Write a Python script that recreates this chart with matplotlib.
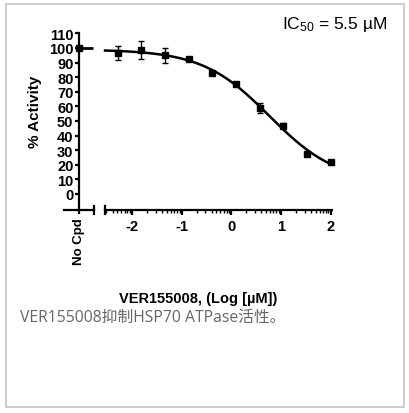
import matplotlib
matplotlib.use("Agg")
import matplotlib.pyplot as plt
import numpy as np
from matplotlib.patches import Rectangle

plt.rcParams['font.family'] = ['Liberation Sans', 'DejaVu Sans']
plt.rcParams['mathtext.default'] = 'regular'

# data
log_conc = [-2.29, -1.82, -1.34, -0.86, -0.39, 0.09, 0.57, 1.05, 1.52, 2.0]
activity = [96.6, 98.5, 95.0, 92.5, 83.0, 75.5, 58.8, 46.8, 27.4, 21.7]
activity_err = [4.5, 6.0, 5.0, 0.8, 1.0, 1.0, 3.4, 1.5, 1.0, 0.5]
no_cpd_value = 100.0
y_ticks = list(range(0, 111, 10))
x_ticks = [-2, -1, 0, 1, 2]
ic50_text = "IC$_{50}$ = 5.5 µM"
x_label = "VER155008, (Log [µM])"
y_label = "% Activity"
caption = "VER155008抑制HSP70 ATPase活性。"


def fit_4pl(x, y):
    # grid over centre and slope, top/bottom solved linearly
    x = np.asarray(x)
    y = np.asarray(y)
    best = None
    for c in np.linspace(-0.5, 2.0, 251):
        for h in np.linspace(0.3, 2.5, 221):
            s = 1.0 / (1.0 + 10 ** ((x - c) * h))
            A = np.column_stack([1 - s, s])
            coef, *_ = np.linalg.lstsq(A, y, rcond=None)
            err = np.sum((A @ coef - y) ** 2)
            if best is None or err < best[0]:
                best = (err, c, h, coef[0], coef[1])
    return best[1:]


def main():
    W, H = 409, 414
    fig = plt.figure(figsize=(W / 100, H / 100), dpi=100)

    fig.patches.append(Rectangle((6 / W, 1 - 408 / H), 398 / W, 403 / H,
                                 transform=fig.transFigure, fill=False,
                                 edgecolor="#c4c4c4", linewidth=1.2))

    ylim = (-11, 110)
    bottom = (H - 211) / H
    height = 176.6 / H
    ax0 = fig.add_axes([64 / W, bottom, 30 / W, height])
    ax = fig.add_axes([105 / W, bottom, 227 / W, height])

    lw = 1.6
    # no compound panel
    ax0.set_xlim(0, 1)
    ax0.set_ylim(*ylim)
    for s in ["top", "right"]:
        ax0.spines[s].set_visible(False)
    ax0.spines["left"].set_position(("data", 0.5))
    ax0.spines["left"].set_bounds(ylim[0], 110)
    ax0.spines["left"].set_linewidth(lw)
    ax0.spines["bottom"].set_linewidth(lw)
    ax0.set_yticks(y_ticks)
    ax0.set_yticklabels([str(t) for t in y_ticks], fontweight="bold", fontsize=10.5)
    ax0.set_xticks([0.5])
    ax0.set_xticklabels(["No Cpd"], rotation=90, fontweight="bold", fontsize=9.5)
    ax0.tick_params(axis="y", direction="out", length=3, width=lw, pad=1)
    ax0.tick_params(axis="x", direction="out", length=3, width=lw, pad=2)
    ax0.plot([0.5], [no_cpd_value], "s", color="black", markersize=4.5)
    ax0.hlines(no_cpd_value, 0.5, 0.95, color="black", linewidth=2)
    ax0.plot([1, 1], [-0.025, 0.025], transform=ax0.transAxes, color="black",
             linewidth=lw, clip_on=False)
    ax0.patch.set_visible(False)

    # dose response panel
    xlim = (-2.55, 2.03)
    ax.set_xlim(*xlim)
    ax.set_ylim(*ylim)
    for s in ["top", "right", "left"]:
        ax.spines[s].set_visible(False)
    ax.spines["bottom"].set_linewidth(lw)
    ax.set_yticks([])
    ax.set_xticks(x_ticks)
    ax.set_xticklabels([str(t) for t in x_ticks], fontweight="bold", fontsize=10.5)
    minors = [d + np.log10(m) for d in range(-3, 3) for m in range(2, 10)]
    minors = [v for v in minors if xlim[0] <= v <= xlim[1]]
    ax.set_xticks(minors, minor=True)
    ax.tick_params(axis="x", which="major", direction="out", length=3.5, width=lw, pad=3)
    ax.tick_params(axis="x", which="minor", direction="out", length=2, width=1)
    ax.plot([0, 0], [-0.025, 0.025], transform=ax.transAxes, color="black",
            linewidth=lw, clip_on=False)
    ax.patch.set_visible(False)

    c, h, bot, top = fit_4pl(log_conc, activity)
    xs = np.linspace(xlim[0], max(log_conc), 300)
    ys = bot + (top - bot) / (1 + 10 ** ((xs - c) * h))
    ax.plot(xs, ys, color="black", linewidth=1.8, clip_on=False)
    ax.errorbar(log_conc, activity, yerr=activity_err, fmt="s", color="black",
                markersize=4.5, capsize=2.5, elinewidth=1, capthick=1, clip_on=False)

    fig.text(35 / W, 1 - 112 / H, y_label, rotation=90, fontweight="bold",
             fontsize=11, ha="center", va="center")
    fig.text(198 / W, 1 - 299 / H, x_label, fontweight="bold", fontsize=10.5,
             ha="center", va="center")
    fig.text(387 / W, 1 - 24 / H, ic50_text, fontsize=12.5, ha="right", va="center")
    fig.text(20 / W, 1 - 318 / H, caption, fontsize=11.3, color="#666666",
             ha="left", va="center", family=["Open Sans", "Noto Sans CJK SC"])

    fig.savefig("out.png", dpi=100)


if __name__ == "__main__":
    main()
